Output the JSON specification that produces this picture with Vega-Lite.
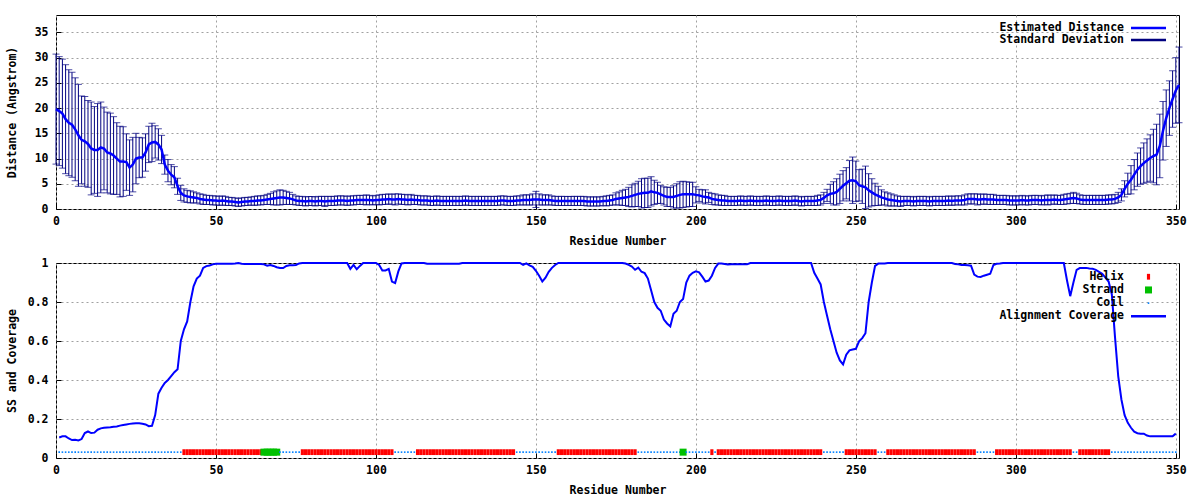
{
"$schema": "https://vega.github.io/schema/vega-lite/v6.json",
"background": "white",
"padding": {"left": 5, "top": 14, "right": 0, "bottom": 0},
"spacing": 8,
"resolve": {"scale": {"color": "independent", "shape": "independent"}, "legend": {"color": "independent", "shape": "independent"}},
"datasets": {
"dist": [
{"r":0,"d":19.8,"s":10.9},{"r":1,"d":19.4,"s":10.8},{"r":2,"d":18.9,"s":10.8},{"r":3,"d":17.8,"s":10.8},{"r":4,"d":17.1,"s":10.5},{"r":5,"d":16.7,"s":10.4},{"r":6,"d":15.8,"s":10.2},{"r":7,"d":14.6,"s":10.1},{"r":8,"d":13.7,"s":8.7},{"r":9,"d":13.4,"s":8.9},
{"r":10,"d":12.9,"s":8.6},{"r":11,"d":12.0,"s":9.2},{"r":12,"d":11.7,"s":8.6},{"r":13,"d":11.7,"s":9.2},{"r":14,"d":12.2,"s":9.0},{"r":15,"d":12.0,"s":8.2},{"r":16,"d":11.2,"s":8.0},{"r":17,"d":11.0,"s":8.0},{"r":18,"d":10.6,"s":7.7},{"r":19,"d":10.0,"s":7.1},
{"r":20,"d":9.4,"s":7.0},{"r":21,"d":9.4,"s":6.9},{"r":22,"d":9.3,"s":5.6},{"r":23,"d":8.2,"s":5.5},{"r":24,"d":8.8,"s":5.4},{"r":25,"d":10.0,"s":5.0},{"r":26,"d":10.2,"s":4.0},{"r":27,"d":10.2,"s":3.9},{"r":28,"d":11.2,"s":3.7},{"r":29,"d":12.8,"s":3.6},
{"r":30,"d":13.2,"s":3.8},{"r":31,"d":13.3,"s":3.2},{"r":32,"d":12.8,"s":3.1},{"r":33,"d":11.8,"s":2.8},{"r":34,"d":8.8,"s":1.9},{"r":35,"d":7.6,"s":2.2},{"r":36,"d":6.8,"s":2.0},{"r":37,"d":6.3,"s":2.1},{"r":38,"d":4.5,"s":1.6},{"r":39,"d":3.2,"s":1.5},
{"r":40,"d":2.7,"s":1.3},{"r":41,"d":2.5,"s":1.2},{"r":42,"d":2.4,"s":1.2},{"r":43,"d":2.3,"s":1.1},{"r":44,"d":2.2,"s":1.0},{"r":45,"d":2.0,"s":1.0},{"r":46,"d":1.9,"s":1.0},{"r":47,"d":1.8,"s":0.9},{"r":48,"d":1.8,"s":0.9},{"r":49,"d":1.7,"s":0.9},
{"r":50,"d":1.7,"s":0.9},{"r":51,"d":1.6,"s":0.9},{"r":52,"d":1.7,"s":0.9},{"r":53,"d":1.6,"s":0.9},{"r":54,"d":1.5,"s":0.8},{"r":55,"d":1.5,"s":0.8},{"r":56,"d":1.4,"s":0.8},{"r":57,"d":1.3,"s":0.8},{"r":58,"d":1.4,"s":0.8},{"r":59,"d":1.5,"s":0.8},
{"r":60,"d":1.5,"s":0.8},{"r":61,"d":1.6,"s":0.8},{"r":62,"d":1.6,"s":0.9},{"r":63,"d":1.7,"s":0.9},{"r":64,"d":1.7,"s":0.9},{"r":65,"d":1.8,"s":0.9},{"r":66,"d":1.9,"s":1.0},{"r":67,"d":2.0,"s":1.1},{"r":68,"d":2.1,"s":1.3},{"r":69,"d":2.2,"s":1.4},
{"r":70,"d":2.3,"s":1.5},{"r":71,"d":2.3,"s":1.4},{"r":72,"d":2.2,"s":1.3},{"r":73,"d":2.1,"s":1.2},{"r":74,"d":1.9,"s":1.0},{"r":75,"d":1.7,"s":0.9},{"r":76,"d":1.6,"s":0.9},{"r":77,"d":1.6,"s":0.9},{"r":78,"d":1.5,"s":0.9},{"r":79,"d":1.6,"s":0.9},
{"r":80,"d":1.6,"s":0.9},{"r":81,"d":1.5,"s":0.9},{"r":82,"d":1.6,"s":0.9},{"r":83,"d":1.6,"s":0.9},{"r":84,"d":1.5,"s":1.0},{"r":85,"d":1.6,"s":0.9},{"r":86,"d":1.6,"s":0.9},{"r":87,"d":1.6,"s":0.9},{"r":88,"d":1.7,"s":0.9},{"r":89,"d":1.7,"s":0.9},
{"r":90,"d":1.7,"s":0.9},{"r":91,"d":1.6,"s":0.9},{"r":92,"d":1.7,"s":0.9},{"r":93,"d":1.7,"s":0.9},{"r":94,"d":1.8,"s":0.9},{"r":95,"d":1.8,"s":0.9},{"r":96,"d":1.8,"s":0.9},{"r":97,"d":1.8,"s":1.0},{"r":98,"d":1.8,"s":0.9},{"r":99,"d":1.7,"s":0.9},
{"r":100,"d":1.8,"s":0.9},{"r":101,"d":1.8,"s":1.0},{"r":102,"d":1.9,"s":1.0},{"r":103,"d":1.9,"s":1.0},{"r":104,"d":2.0,"s":1.0},{"r":105,"d":1.9,"s":1.0},{"r":106,"d":1.9,"s":1.1},{"r":107,"d":2.0,"s":1.0},{"r":108,"d":1.9,"s":1.0},{"r":109,"d":1.9,"s":1.0},
{"r":110,"d":1.8,"s":1.0},{"r":111,"d":1.9,"s":1.0},{"r":112,"d":1.8,"s":0.9},{"r":113,"d":1.8,"s":0.9},{"r":114,"d":1.7,"s":0.9},{"r":115,"d":1.7,"s":0.9},{"r":116,"d":1.7,"s":0.9},{"r":117,"d":1.6,"s":0.9},{"r":118,"d":1.6,"s":0.9},{"r":119,"d":1.7,"s":0.9},
{"r":120,"d":1.6,"s":0.9},{"r":121,"d":1.6,"s":0.9},{"r":122,"d":1.6,"s":0.9},{"r":123,"d":1.6,"s":0.9},{"r":124,"d":1.6,"s":0.9},{"r":125,"d":1.6,"s":0.9},{"r":126,"d":1.6,"s":0.9},{"r":127,"d":1.6,"s":0.9},{"r":128,"d":1.7,"s":0.9},{"r":129,"d":1.6,"s":0.9},
{"r":130,"d":1.6,"s":0.9},{"r":131,"d":1.6,"s":0.9},{"r":132,"d":1.6,"s":0.9},{"r":133,"d":1.6,"s":0.9},{"r":134,"d":1.6,"s":0.9},{"r":135,"d":1.6,"s":0.9},{"r":136,"d":1.6,"s":0.9},{"r":137,"d":1.6,"s":0.9},{"r":138,"d":1.6,"s":0.9},{"r":139,"d":1.7,"s":0.9},
{"r":140,"d":1.7,"s":0.9},{"r":141,"d":1.6,"s":0.9},{"r":142,"d":1.6,"s":0.9},{"r":143,"d":1.6,"s":0.9},{"r":144,"d":1.7,"s":0.9},{"r":145,"d":1.7,"s":0.9},{"r":146,"d":1.8,"s":1.0},{"r":147,"d":1.8,"s":1.0},{"r":148,"d":1.8,"s":1.0},{"r":149,"d":1.9,"s":1.1},
{"r":150,"d":1.9,"s":1.6},{"r":151,"d":1.9,"s":1.1},{"r":152,"d":1.8,"s":1.0},{"r":153,"d":1.8,"s":1.0},{"r":154,"d":1.8,"s":1.0},{"r":155,"d":1.7,"s":0.9},{"r":156,"d":1.6,"s":0.9},{"r":157,"d":1.6,"s":0.9},{"r":158,"d":1.6,"s":0.9},{"r":159,"d":1.6,"s":0.9},
{"r":160,"d":1.6,"s":0.9},{"r":161,"d":1.6,"s":0.9},{"r":162,"d":1.6,"s":0.9},{"r":163,"d":1.6,"s":0.9},{"r":164,"d":1.6,"s":0.9},{"r":165,"d":1.6,"s":0.9},{"r":166,"d":1.5,"s":0.9},{"r":167,"d":1.5,"s":0.9},{"r":168,"d":1.5,"s":0.9},{"r":169,"d":1.5,"s":0.9},
{"r":170,"d":1.5,"s":0.9},{"r":171,"d":1.6,"s":0.9},{"r":172,"d":1.6,"s":1.0},{"r":173,"d":1.7,"s":1.0},{"r":174,"d":1.8,"s":1.0},{"r":175,"d":2.0,"s":1.2},{"r":176,"d":2.1,"s":1.3},{"r":177,"d":2.2,"s":1.5},{"r":178,"d":2.3,"s":1.6},{"r":179,"d":2.4,"s":1.9},
{"r":180,"d":2.6,"s":2.2},{"r":181,"d":2.8,"s":2.3},{"r":182,"d":3.0,"s":2.5},{"r":183,"d":3.1,"s":2.9},{"r":184,"d":3.2,"s":2.9},{"r":185,"d":3.2,"s":2.9},{"r":186,"d":3.5,"s":2.9},{"r":187,"d":3.3,"s":2.4},{"r":188,"d":3.2,"s":2.1},{"r":189,"d":2.9,"s":1.8},
{"r":190,"d":2.6,"s":1.8},{"r":191,"d":2.4,"s":1.9},{"r":192,"d":2.4,"s":1.9},{"r":193,"d":2.4,"s":2.2},{"r":194,"d":2.6,"s":2.4},{"r":195,"d":2.8,"s":2.6},{"r":196,"d":2.9,"s":2.6},{"r":197,"d":2.9,"s":2.5},{"r":198,"d":2.9,"s":2.4},{"r":199,"d":2.9,"s":2.4},
{"r":200,"d":2.8,"s":1.6},{"r":201,"d":2.7,"s":1.2},{"r":202,"d":2.5,"s":1.3},{"r":203,"d":2.4,"s":1.4},{"r":204,"d":2.3,"s":1.0},{"r":205,"d":2.0,"s":1.1},{"r":206,"d":1.9,"s":1.1},{"r":207,"d":1.8,"s":1.0},{"r":208,"d":1.7,"s":1.0},{"r":209,"d":1.7,"s":1.0},
{"r":210,"d":1.6,"s":0.9},{"r":211,"d":1.6,"s":0.9},{"r":212,"d":1.6,"s":0.9},{"r":213,"d":1.6,"s":0.9},{"r":214,"d":1.7,"s":0.9},{"r":215,"d":1.6,"s":0.9},{"r":216,"d":1.6,"s":0.9},{"r":217,"d":1.7,"s":0.9},{"r":218,"d":1.6,"s":0.9},{"r":219,"d":1.6,"s":0.9},
{"r":220,"d":1.6,"s":0.9},{"r":221,"d":1.6,"s":0.9},{"r":222,"d":1.7,"s":0.9},{"r":223,"d":1.6,"s":0.9},{"r":224,"d":1.6,"s":0.9},{"r":225,"d":1.6,"s":0.9},{"r":226,"d":1.7,"s":0.9},{"r":227,"d":1.6,"s":0.9},{"r":228,"d":1.6,"s":0.9},{"r":229,"d":1.6,"s":0.9},
{"r":230,"d":1.6,"s":0.9},{"r":231,"d":1.7,"s":0.9},{"r":232,"d":1.6,"s":0.9},{"r":233,"d":1.5,"s":0.9},{"r":234,"d":1.6,"s":0.9},{"r":235,"d":1.6,"s":0.9},{"r":236,"d":1.6,"s":0.9},{"r":237,"d":1.6,"s":0.9},{"r":238,"d":1.7,"s":1.0},{"r":239,"d":1.8,"s":1.0},
{"r":240,"d":2.2,"s":1.1},{"r":241,"d":2.7,"s":1.2},{"r":242,"d":3.0,"s":1.9},{"r":243,"d":3.1,"s":2.3},{"r":244,"d":3.4,"s":2.6},{"r":245,"d":4.0,"s":2.9},{"r":246,"d":4.6,"s":3.0},{"r":247,"d":5.1,"s":3.1},{"r":248,"d":5.6,"s":4.0},{"r":249,"d":5.7,"s":4.6},
{"r":250,"d":5.5,"s":4.0},{"r":251,"d":4.7,"s":3.1},{"r":252,"d":4.5,"s":3.4},{"r":253,"d":4.3,"s":4.2},{"r":254,"d":3.7,"s":3.3},{"r":255,"d":3.3,"s":2.7},{"r":256,"d":2.9,"s":2.2},{"r":257,"d":2.6,"s":1.9},{"r":258,"d":2.3,"s":1.5},{"r":259,"d":2.1,"s":1.3},
{"r":260,"d":1.9,"s":1.3},{"r":261,"d":1.8,"s":1.2},{"r":262,"d":1.7,"s":1.1},{"r":263,"d":1.6,"s":1.0},{"r":264,"d":1.5,"s":1.0},{"r":265,"d":1.6,"s":0.9},{"r":266,"d":1.6,"s":0.9},{"r":267,"d":1.6,"s":0.9},{"r":268,"d":1.5,"s":0.9},{"r":269,"d":1.6,"s":0.9},
{"r":270,"d":1.6,"s":0.9},{"r":271,"d":1.6,"s":0.9},{"r":272,"d":1.6,"s":0.9},{"r":273,"d":1.5,"s":0.9},{"r":274,"d":1.6,"s":0.9},{"r":275,"d":1.6,"s":0.9},{"r":276,"d":1.6,"s":0.9},{"r":277,"d":1.6,"s":0.9},{"r":278,"d":1.6,"s":0.9},{"r":279,"d":1.7,"s":0.9},
{"r":280,"d":1.6,"s":0.9},{"r":281,"d":1.7,"s":0.9},{"r":282,"d":1.7,"s":0.9},{"r":283,"d":1.7,"s":0.9},{"r":284,"d":1.8,"s":1.0},{"r":285,"d":2.0,"s":1.0},{"r":286,"d":2.0,"s":1.0},{"r":287,"d":2.0,"s":1.0},{"r":288,"d":1.9,"s":1.1},{"r":289,"d":1.9,"s":1.0},
{"r":290,"d":2.0,"s":1.0},{"r":291,"d":1.9,"s":1.0},{"r":292,"d":1.9,"s":1.0},{"r":293,"d":1.9,"s":1.0},{"r":294,"d":1.8,"s":0.9},{"r":295,"d":1.8,"s":0.9},{"r":296,"d":1.8,"s":0.9},{"r":297,"d":1.8,"s":0.9},{"r":298,"d":1.7,"s":0.9},{"r":299,"d":1.7,"s":0.9},
{"r":300,"d":1.7,"s":0.9},{"r":301,"d":1.7,"s":0.9},{"r":302,"d":1.8,"s":0.9},{"r":303,"d":1.7,"s":0.9},{"r":304,"d":1.7,"s":0.9},{"r":305,"d":1.8,"s":0.9},{"r":306,"d":1.8,"s":0.9},{"r":307,"d":1.8,"s":0.9},{"r":308,"d":1.7,"s":0.9},{"r":309,"d":1.8,"s":0.9},
{"r":310,"d":1.8,"s":1.0},{"r":311,"d":1.8,"s":0.9},{"r":312,"d":1.9,"s":0.9},{"r":313,"d":1.8,"s":0.9},{"r":314,"d":1.8,"s":0.9},{"r":315,"d":1.9,"s":1.0},{"r":316,"d":2.0,"s":1.0},{"r":317,"d":2.1,"s":1.0},{"r":318,"d":2.2,"s":1.1},{"r":319,"d":2.1,"s":1.0},
{"r":320,"d":1.9,"s":0.9},{"r":321,"d":1.8,"s":0.9},{"r":322,"d":1.8,"s":0.9},{"r":323,"d":1.8,"s":0.9},{"r":324,"d":1.8,"s":0.9},{"r":325,"d":1.8,"s":0.9},{"r":326,"d":1.8,"s":0.9},{"r":327,"d":1.8,"s":0.9},{"r":328,"d":1.8,"s":0.9},{"r":329,"d":1.9,"s":0.9},
{"r":330,"d":1.9,"s":0.9},{"r":331,"d":2.0,"s":0.9},{"r":332,"d":2.3,"s":1.0},{"r":333,"d":2.8,"s":1.2},{"r":334,"d":4.0,"s":1.6},{"r":335,"d":5.0,"s":2.1},{"r":336,"d":5.8,"s":2.8},{"r":337,"d":6.8,"s":3.0},{"r":338,"d":7.8,"s":3.3},{"r":339,"d":8.5,"s":3.6},
{"r":340,"d":9.1,"s":4.0},{"r":341,"d":9.6,"s":4.3},{"r":342,"d":10.1,"s":4.6},{"r":343,"d":10.5,"s":5.3},{"r":344,"d":10.8,"s":6.0},{"r":345,"d":12.5,"s":6.3},{"r":346,"d":15.5,"s":5.8},{"r":347,"d":18.0,"s":5.6},{"r":348,"d":20.0,"s":5.4},{"r":349,"d":21.8,"s":5.6},
{"r":350,"d":23.5,"s":6.5},{"r":351,"d":24.6,"s":7.5}
],
"cov": [
{"r":1,"c":0.105,"ss":"Coil"},{"r":2,"c":0.111,"ss":"Coil"},{"r":3,"c":0.111,"ss":"Coil"},{"r":4,"c":0.100,"ss":"Coil"},{"r":5,"c":0.092,"ss":"Coil"},{"r":6,"c":0.093,"ss":"Coil"},{"r":7,"c":0.090,"ss":"Coil"},{"r":8,"c":0.097,"ss":"Coil"},{"r":9,"c":0.128,"ss":"Coil"},{"r":10,"c":0.136,"ss":"Coil"},
{"r":11,"c":0.128,"ss":"Coil"},{"r":12,"c":0.130,"ss":"Coil"},{"r":13,"c":0.145,"ss":"Coil"},{"r":14,"c":0.152,"ss":"Coil"},{"r":15,"c":0.155,"ss":"Coil"},{"r":16,"c":0.157,"ss":"Coil"},{"r":17,"c":0.158,"ss":"Coil"},{"r":18,"c":0.160,"ss":"Coil"},{"r":19,"c":0.162,"ss":"Coil"},{"r":20,"c":0.166,"ss":"Coil"},
{"r":21,"c":0.169,"ss":"Coil"},{"r":22,"c":0.172,"ss":"Coil"},{"r":23,"c":0.175,"ss":"Coil"},{"r":24,"c":0.177,"ss":"Coil"},{"r":25,"c":0.178,"ss":"Coil"},{"r":26,"c":0.178,"ss":"Coil"},{"r":27,"c":0.176,"ss":"Coil"},{"r":28,"c":0.172,"ss":"Coil"},{"r":29,"c":0.163,"ss":"Coil"},{"r":30,"c":0.165,"ss":"Coil"},
{"r":31,"c":0.22,"ss":"Coil"},{"r":32,"c":0.33,"ss":"Coil"},{"r":33,"c":0.36,"ss":"Coil"},{"r":34,"c":0.385,"ss":"Coil"},{"r":35,"c":0.40,"ss":"Coil"},{"r":36,"c":0.42,"ss":"Coil"},{"r":37,"c":0.44,"ss":"Coil"},{"r":38,"c":0.455,"ss":"Coil"},{"r":39,"c":0.60,"ss":"Coil"},{"r":40,"c":0.66,"ss":"Helix"},
{"r":41,"c":0.70,"ss":"Helix"},{"r":42,"c":0.80,"ss":"Helix"},{"r":43,"c":0.88,"ss":"Helix"},{"r":44,"c":0.92,"ss":"Helix"},{"r":45,"c":0.935,"ss":"Helix"},{"r":46,"c":0.975,"ss":"Helix"},{"r":47,"c":0.984,"ss":"Helix"},{"r":48,"c":0.987,"ss":"Helix"},{"r":49,"c":0.993,"ss":"Helix"},{"r":50,"c":0.996,"ss":"Helix"},
{"r":51,"c":0.996,"ss":"Helix"},{"r":52,"c":0.996,"ss":"Helix"},{"r":53,"c":0.996,"ss":"Helix"},{"r":54,"c":0.996,"ss":"Helix"},{"r":55,"c":0.996,"ss":"Helix"},{"r":56,"c":0.997,"ss":"Helix"},{"r":57,"c":1.0,"ss":"Helix"},{"r":58,"c":0.996,"ss":"Helix"},{"r":59,"c":0.995,"ss":"Helix"},{"r":60,"c":0.995,"ss":"Helix"},
{"r":61,"c":0.995,"ss":"Helix"},{"r":62,"c":0.995,"ss":"Helix"},{"r":63,"c":0.995,"ss":"Helix"},{"r":64,"c":0.995,"ss":"Helix"},{"r":65,"c":0.993,"ss":"Strand"},{"r":66,"c":0.986,"ss":"Strand"},{"r":67,"c":0.99,"ss":"Strand"},{"r":68,"c":0.985,"ss":"Strand"},{"r":69,"c":0.978,"ss":"Strand"},{"r":70,"c":0.974,"ss":"Coil"},
{"r":71,"c":0.974,"ss":"Coil"},{"r":72,"c":0.985,"ss":"Coil"},{"r":73,"c":0.988,"ss":"Coil"},{"r":74,"c":0.988,"ss":"Coil"},{"r":75,"c":0.99,"ss":"Coil"},{"r":76,"c":0.998,"ss":"Coil"},{"r":77,"c":1.0,"ss":"Helix"},{"r":78,"c":1.0,"ss":"Helix"},{"r":79,"c":1.0,"ss":"Helix"},{"r":80,"c":1.0,"ss":"Helix"},
{"r":81,"c":1.0,"ss":"Helix"},{"r":82,"c":1.0,"ss":"Helix"},{"r":83,"c":1.0,"ss":"Helix"},{"r":84,"c":1.0,"ss":"Helix"},{"r":85,"c":1.0,"ss":"Helix"},{"r":86,"c":1.0,"ss":"Helix"},{"r":87,"c":1.0,"ss":"Helix"},{"r":88,"c":1.0,"ss":"Helix"},{"r":89,"c":1.0,"ss":"Helix"},{"r":90,"c":1.0,"ss":"Helix"},
{"r":91,"c":1.0,"ss":"Helix"},{"r":92,"c":0.97,"ss":"Helix"},{"r":93,"c":0.99,"ss":"Helix"},{"r":94,"c":0.968,"ss":"Helix"},{"r":95,"c":0.985,"ss":"Helix"},{"r":96,"c":1.0,"ss":"Helix"},{"r":97,"c":1.0,"ss":"Helix"},{"r":98,"c":1.0,"ss":"Helix"},{"r":99,"c":1.0,"ss":"Helix"},{"r":100,"c":1.0,"ss":"Helix"},
{"r":101,"c":0.99,"ss":"Helix"},{"r":102,"c":0.962,"ss":"Helix"},{"r":103,"c":0.962,"ss":"Helix"},{"r":104,"c":0.97,"ss":"Helix"},{"r":105,"c":0.905,"ss":"Helix"},{"r":106,"c":0.897,"ss":"Coil"},{"r":107,"c":0.957,"ss":"Coil"},{"r":108,"c":0.998,"ss":"Coil"},{"r":109,"c":1.0,"ss":"Coil"},{"r":110,"c":1.0,"ss":"Coil"},
{"r":111,"c":1.0,"ss":"Coil"},{"r":112,"c":1.0,"ss":"Coil"},{"r":113,"c":1.0,"ss":"Helix"},{"r":114,"c":1.0,"ss":"Helix"},{"r":115,"c":1.0,"ss":"Helix"},{"r":116,"c":0.996,"ss":"Helix"},{"r":117,"c":0.996,"ss":"Helix"},{"r":118,"c":0.996,"ss":"Helix"},{"r":119,"c":0.996,"ss":"Helix"},{"r":120,"c":0.996,"ss":"Helix"},
{"r":121,"c":0.996,"ss":"Helix"},{"r":122,"c":0.996,"ss":"Helix"},{"r":123,"c":0.996,"ss":"Helix"},{"r":124,"c":0.996,"ss":"Helix"},{"r":125,"c":0.996,"ss":"Helix"},{"r":126,"c":0.996,"ss":"Helix"},{"r":127,"c":1.0,"ss":"Helix"},{"r":128,"c":1.0,"ss":"Helix"},{"r":129,"c":1.0,"ss":"Helix"},{"r":130,"c":1.0,"ss":"Helix"},
{"r":131,"c":1.0,"ss":"Helix"},{"r":132,"c":1.0,"ss":"Helix"},{"r":133,"c":1.0,"ss":"Helix"},{"r":134,"c":1.0,"ss":"Helix"},{"r":135,"c":1.0,"ss":"Helix"},{"r":136,"c":1.0,"ss":"Helix"},{"r":137,"c":1.0,"ss":"Helix"},{"r":138,"c":1.0,"ss":"Helix"},{"r":139,"c":1.0,"ss":"Helix"},{"r":140,"c":1.0,"ss":"Helix"},
{"r":141,"c":1.0,"ss":"Helix"},{"r":142,"c":1.0,"ss":"Helix"},{"r":143,"c":1.0,"ss":"Helix"},{"r":144,"c":1.0,"ss":"Coil"},{"r":145,"c":1.0,"ss":"Coil"},{"r":146,"c":0.99,"ss":"Coil"},{"r":147,"c":0.998,"ss":"Coil"},{"r":148,"c":0.988,"ss":"Coil"},{"r":149,"c":0.98,"ss":"Coil"},{"r":150,"c":0.96,"ss":"Coil"},
{"r":151,"c":0.935,"ss":"Coil"},{"r":152,"c":0.905,"ss":"Coil"},{"r":153,"c":0.925,"ss":"Coil"},{"r":154,"c":0.955,"ss":"Coil"},{"r":155,"c":0.975,"ss":"Coil"},{"r":156,"c":0.99,"ss":"Coil"},{"r":157,"c":1.0,"ss":"Helix"},{"r":158,"c":1.0,"ss":"Helix"},{"r":159,"c":1.0,"ss":"Helix"},{"r":160,"c":1.0,"ss":"Helix"},
{"r":161,"c":1.0,"ss":"Helix"},{"r":162,"c":1.0,"ss":"Helix"},{"r":163,"c":1.0,"ss":"Helix"},{"r":164,"c":1.0,"ss":"Helix"},{"r":165,"c":1.0,"ss":"Helix"},{"r":166,"c":1.0,"ss":"Helix"},{"r":167,"c":1.0,"ss":"Helix"},{"r":168,"c":1.0,"ss":"Helix"},{"r":169,"c":1.0,"ss":"Helix"},{"r":170,"c":1.0,"ss":"Helix"},
{"r":171,"c":1.0,"ss":"Helix"},{"r":172,"c":1.0,"ss":"Helix"},{"r":173,"c":1.0,"ss":"Helix"},{"r":174,"c":1.0,"ss":"Helix"},{"r":175,"c":1.0,"ss":"Helix"},{"r":176,"c":1.0,"ss":"Helix"},{"r":177,"c":1.0,"ss":"Helix"},{"r":178,"c":0.997,"ss":"Helix"},{"r":179,"c":0.99,"ss":"Helix"},{"r":180,"c":0.982,"ss":"Helix"},
{"r":181,"c":0.965,"ss":"Helix"},{"r":182,"c":0.976,"ss":"Coil"},{"r":183,"c":0.955,"ss":"Coil"},{"r":184,"c":0.948,"ss":"Coil"},{"r":185,"c":0.92,"ss":"Coil"},{"r":186,"c":0.86,"ss":"Coil"},{"r":187,"c":0.80,"ss":"Coil"},{"r":188,"c":0.77,"ss":"Coil"},{"r":189,"c":0.755,"ss":"Coil"},{"r":190,"c":0.71,"ss":"Coil"},
{"r":191,"c":0.69,"ss":"Coil"},{"r":192,"c":0.675,"ss":"Coil"},{"r":193,"c":0.74,"ss":"Coil"},{"r":194,"c":0.755,"ss":"Coil"},{"r":195,"c":0.80,"ss":"Coil"},{"r":196,"c":0.815,"ss":"Strand"},{"r":197,"c":0.90,"ss":"Coil"},{"r":198,"c":0.935,"ss":"Coil"},{"r":199,"c":0.95,"ss":"Coil"},{"r":200,"c":0.957,"ss":"Coil"},
{"r":201,"c":0.952,"ss":"Coil"},{"r":202,"c":0.93,"ss":"Coil"},{"r":203,"c":0.905,"ss":"Coil"},{"r":204,"c":0.91,"ss":"Coil"},{"r":205,"c":0.935,"ss":"Helix"},{"r":206,"c":0.975,"ss":"Coil"},{"r":207,"c":0.997,"ss":"Helix"},{"r":208,"c":0.997,"ss":"Helix"},{"r":209,"c":0.995,"ss":"Helix"},{"r":210,"c":0.992,"ss":"Helix"},
{"r":211,"c":0.993,"ss":"Helix"},{"r":212,"c":0.993,"ss":"Helix"},{"r":213,"c":0.993,"ss":"Helix"},{"r":214,"c":0.993,"ss":"Helix"},{"r":215,"c":0.993,"ss":"Helix"},{"r":216,"c":0.993,"ss":"Helix"},{"r":217,"c":1.0,"ss":"Helix"},{"r":218,"c":1.0,"ss":"Helix"},{"r":219,"c":1.0,"ss":"Helix"},{"r":220,"c":1.0,"ss":"Helix"},
{"r":221,"c":1.0,"ss":"Helix"},{"r":222,"c":1.0,"ss":"Helix"},{"r":223,"c":1.0,"ss":"Helix"},{"r":224,"c":1.0,"ss":"Helix"},{"r":225,"c":1.0,"ss":"Helix"},{"r":226,"c":1.0,"ss":"Helix"},{"r":227,"c":1.0,"ss":"Helix"},{"r":228,"c":1.0,"ss":"Helix"},{"r":229,"c":1.0,"ss":"Helix"},{"r":230,"c":1.0,"ss":"Helix"},
{"r":231,"c":1.0,"ss":"Helix"},{"r":232,"c":1.0,"ss":"Helix"},{"r":233,"c":1.0,"ss":"Helix"},{"r":234,"c":1.0,"ss":"Helix"},{"r":235,"c":1.0,"ss":"Helix"},{"r":236,"c":1.0,"ss":"Helix"},{"r":237,"c":0.95,"ss":"Helix"},{"r":238,"c":0.92,"ss":"Helix"},{"r":239,"c":0.89,"ss":"Helix"},{"r":240,"c":0.80,"ss":"Coil"},
{"r":241,"c":0.73,"ss":"Coil"},{"r":242,"c":0.66,"ss":"Coil"},{"r":243,"c":0.60,"ss":"Coil"},{"r":244,"c":0.54,"ss":"Coil"},{"r":245,"c":0.50,"ss":"Coil"},{"r":246,"c":0.48,"ss":"Coil"},{"r":247,"c":0.53,"ss":"Helix"},{"r":248,"c":0.552,"ss":"Helix"},{"r":249,"c":0.556,"ss":"Helix"},{"r":250,"c":0.56,"ss":"Helix"},
{"r":251,"c":0.598,"ss":"Helix"},{"r":252,"c":0.615,"ss":"Helix"},{"r":253,"c":0.64,"ss":"Helix"},{"r":254,"c":0.80,"ss":"Helix"},{"r":255,"c":0.90,"ss":"Helix"},{"r":256,"c":0.985,"ss":"Helix"},{"r":257,"c":0.997,"ss":"Coil"},{"r":258,"c":0.997,"ss":"Coil"},{"r":259,"c":0.998,"ss":"Coil"},{"r":260,"c":1.0,"ss":"Helix"},
{"r":261,"c":1.0,"ss":"Helix"},{"r":262,"c":1.0,"ss":"Helix"},{"r":263,"c":1.0,"ss":"Helix"},{"r":264,"c":1.0,"ss":"Helix"},{"r":265,"c":1.0,"ss":"Helix"},{"r":266,"c":1.0,"ss":"Helix"},{"r":267,"c":1.0,"ss":"Helix"},{"r":268,"c":1.0,"ss":"Helix"},{"r":269,"c":1.0,"ss":"Helix"},{"r":270,"c":1.0,"ss":"Helix"},
{"r":271,"c":1.0,"ss":"Helix"},{"r":272,"c":1.0,"ss":"Helix"},{"r":273,"c":1.0,"ss":"Helix"},{"r":274,"c":1.0,"ss":"Helix"},{"r":275,"c":1.0,"ss":"Helix"},{"r":276,"c":1.0,"ss":"Helix"},{"r":277,"c":1.0,"ss":"Helix"},{"r":278,"c":1.0,"ss":"Helix"},{"r":279,"c":1.0,"ss":"Helix"},{"r":280,"c":1.0,"ss":"Helix"},
{"r":281,"c":0.995,"ss":"Helix"},{"r":282,"c":0.993,"ss":"Helix"},{"r":283,"c":0.99,"ss":"Helix"},{"r":284,"c":0.99,"ss":"Helix"},{"r":285,"c":0.988,"ss":"Helix"},{"r":286,"c":0.986,"ss":"Helix"},{"r":287,"c":0.94,"ss":"Helix"},{"r":288,"c":0.93,"ss":"Coil"},{"r":289,"c":0.928,"ss":"Coil"},{"r":290,"c":0.935,"ss":"Coil"},
{"r":291,"c":0.94,"ss":"Coil"},{"r":292,"c":0.945,"ss":"Coil"},{"r":293,"c":0.99,"ss":"Coil"},{"r":294,"c":0.996,"ss":"Helix"},{"r":295,"c":0.997,"ss":"Helix"},{"r":296,"c":1.0,"ss":"Helix"},{"r":297,"c":1.0,"ss":"Helix"},{"r":298,"c":1.0,"ss":"Helix"},{"r":299,"c":1.0,"ss":"Helix"},{"r":300,"c":1.0,"ss":"Helix"},
{"r":301,"c":1.0,"ss":"Helix"},{"r":302,"c":1.0,"ss":"Helix"},{"r":303,"c":1.0,"ss":"Helix"},{"r":304,"c":1.0,"ss":"Helix"},{"r":305,"c":1.0,"ss":"Helix"},{"r":306,"c":1.0,"ss":"Helix"},{"r":307,"c":1.0,"ss":"Helix"},{"r":308,"c":1.0,"ss":"Helix"},{"r":309,"c":1.0,"ss":"Helix"},{"r":310,"c":1.0,"ss":"Helix"},
{"r":311,"c":1.0,"ss":"Helix"},{"r":312,"c":1.0,"ss":"Helix"},{"r":313,"c":1.0,"ss":"Helix"},{"r":314,"c":1.0,"ss":"Helix"},{"r":315,"c":1.0,"ss":"Helix"},{"r":316,"c":0.91,"ss":"Helix"},{"r":317,"c":0.83,"ss":"Helix"},{"r":318,"c":0.90,"ss":"Coil"},{"r":319,"c":0.965,"ss":"Coil"},{"r":320,"c":0.974,"ss":"Helix"},
{"r":321,"c":0.975,"ss":"Helix"},{"r":322,"c":0.975,"ss":"Helix"},{"r":323,"c":0.972,"ss":"Helix"},{"r":324,"c":0.970,"ss":"Helix"},{"r":325,"c":0.965,"ss":"Helix"},{"r":326,"c":0.955,"ss":"Helix"},{"r":327,"c":0.945,"ss":"Helix"},{"r":328,"c":0.925,"ss":"Helix"},{"r":329,"c":0.905,"ss":"Helix"},{"r":330,"c":0.84,"ss":"Coil"},
{"r":331,"c":0.62,"ss":"Coil"},{"r":332,"c":0.42,"ss":"Coil"},{"r":333,"c":0.30,"ss":"Coil"},{"r":334,"c":0.22,"ss":"Coil"},{"r":335,"c":0.18,"ss":"Coil"},{"r":336,"c":0.155,"ss":"Coil"},{"r":337,"c":0.135,"ss":"Coil"},{"r":338,"c":0.127,"ss":"Coil"},{"r":339,"c":0.125,"ss":"Coil"},{"r":340,"c":0.125,"ss":"Coil"},
{"r":341,"c":0.115,"ss":"Coil"},{"r":342,"c":0.111,"ss":"Coil"},{"r":343,"c":0.111,"ss":"Coil"},{"r":344,"c":0.111,"ss":"Coil"},{"r":345,"c":0.111,"ss":"Coil"},{"r":346,"c":0.111,"ss":"Coil"},{"r":347,"c":0.111,"ss":"Coil"},{"r":348,"c":0.111,"ss":"Coil"},{"r":349,"c":0.111,"ss":"Coil"},{"r":350,"c":0.125,"ss":"Coil"}
]
},
"vconcat": [
{
"data": {"name": "dist"},
"width": 1123,
"height": 194,
"encoding": {
"x": {"field": "r", "type": "quantitative", "scale": {"domain": [0, 351], "nice": false, "zero": false},
"axis": {"values": [0, 50, 100, 150, 200, 250, 300, 350], "format": "d", "title": "Residue Number", "labelOverlap": false, "tickCount": 40}}
},
"layer": [
{
"mark": {"type": "errorbar", "ticks": false, "thickness": 1},
"encoding": {
"y": {"field": "d", "type": "quantitative", "title": "Distance (Angstrom)", "scale": {"domain": [0, 38.45], "nice": false},
"axis": {"values": [0, 5, 10, 15, 20, 25, 30, 35], "format": "d", "title": "Distance (Angstrom)", "labelOverlap": false, "tickCount": 20, "titlePadding": 17}},
"yError": {"field": "s"},
"color": {"datum": "Standard Deviation", "type": "nominal",
"scale": {"domain": ["Estimated Distance", "Standard Deviation"], "range": ["#0000ff", "#000080"]},
"legend": {"title": null, "legendX": 942, "legendY": 6.5, "labelAlign": "right", "symbolType": "M-3.5,0H3.5",
"symbolSize": 100, "symbolOffset": 144, "labelOffset": -31, "symbolStrokeWidth": 2.5, "rowPadding": 0}}
}
},
{
"mark": {"type": "errorbar", "rule": false, "ticks": {"size": 7, "color": "#000080"}},
"encoding": {
"y": {"field": "d", "type": "quantitative", "title": "Distance (Angstrom)"},
"yError": {"field": "s"}
}
},
{
"mark": {"type": "line", "strokeWidth": 2.5},
"encoding": {
"y": {"field": "d", "type": "quantitative", "title": "Distance (Angstrom)"},
"color": {"datum": "Estimated Distance", "type": "nominal"}
}
}
]
},
{
"data": {"name": "cov"},
"width": 1123,
"height": 195,
"encoding": {
"x": {"field": "r", "type": "quantitative", "scale": {"domain": [0, 351], "nice": false, "zero": false},
"axis": {"values": [0, 50, 100, 150, 200, 250, 300, 350], "format": "d", "title": "Residue Number", "labelOverlap": false, "tickCount": 40}}
},
"layer": [
{
"mark": {"type": "point", "filled": true, "opacity": 1, "size": 100, "strokeWidth": 0},
"encoding": {
"y": {"datum": 0.03, "type": "quantitative", "title": "SS and Coverage", "scale": {"domain": [0, 1], "nice": false},
"axis": {"values": [0, 0.2, 0.4, 0.6, 0.8, 1], "format": "~g", "title": "SS and Coverage", "labelOverlap": false, "tickCount": 20, "titlePadding": 10}},
"color": {"field": "ss", "type": "nominal",
"scale": {"domain": ["Helix", "Strand", "Coil", "Alignment Coverage"], "range": ["#ff0000", "#00c000", "#0080ff", "#0000ff"]},
"legend": {"title": null, "legendX": 942, "legendY": 8, "labelAlign": "right", "symbolSize": 100,
"symbolOffset": 144.75, "labelOffset": -30.25, "symbolStrokeWidth": 0, "rowPadding": 0.2}},
"shape": {"field": "ss", "type": "nominal",
"scale": {"domain": ["Helix", "Strand", "Coil", "Alignment Coverage"],
"range": ["M-0.315,-0.58H0.315V0.58H-0.315Z", "M-0.7,-0.7H0.7V0.7H-0.7Z", "M-0.16,-0.16H0.16V0.16H-0.16Z", "M-3.5,-0.25H3.5V0.25H-3.5Z"]},
"legend": {"title": null, "legendX": 942, "legendY": 8, "labelAlign": "right", "symbolSize": 100,
"symbolOffset": 144.75, "labelOffset": -30.25, "symbolStrokeWidth": 0, "rowPadding": 0.2}},
"order": {"field": "r", "type": "quantitative"}
}
},
{
"mark": {"type": "line", "strokeWidth": 2},
"encoding": {
"y": {"field": "c", "type": "quantitative", "title": "SS and Coverage"},
"color": {"datum": "Alignment Coverage", "type": "nominal"}
}
}
]
}
],
"config": {
"font": "DejaVu Sans Mono",
"view": {"stroke": "#000000", "strokeWidth": 1},
"axis": {
"labelFont": "DejaVu Sans Mono", "labelFontSize": 11.5, "labelFontWeight": "bold", "labelColor": "#000000",
"titleFont": "DejaVu Sans Mono", "titleFontSize": 11.5, "titleFontWeight": "bold", "titleColor": "#000000",
"grid": true, "gridColor": "#a0a0a0", "gridDash": [2, 3], "gridWidth": 1, "gridOpacity": 1,
"domain": false, "ticks": true, "tickSize": -5, "tickColor": "#000000", "tickWidth": 1,
"labelFlush": false, "labelOverlap": false
},
"axisX": {"labelPadding": 11, "titlePadding": 9},
"axisY": {"labelPadding": 13, "titlePadding": 12},
"legend": {
"orient": "none", "padding": 0,
"labelFont": "DejaVu Sans Mono", "labelFontSize": 11.5, "labelFontWeight": "bold", "labelColor": "#000000",
"labelLimit": 0
}
}
}
